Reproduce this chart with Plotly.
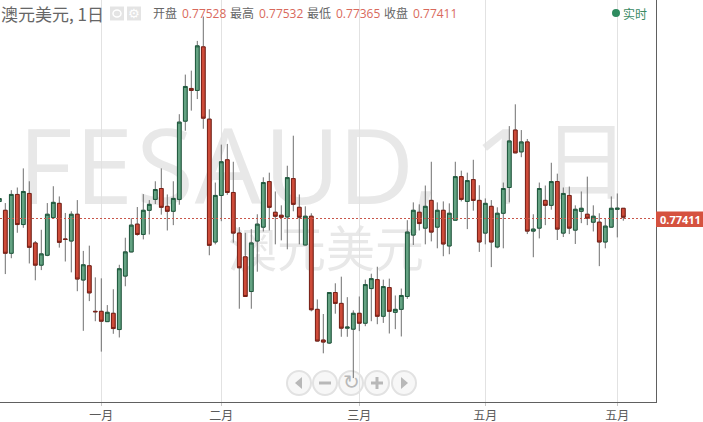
import plotly.graph_objects as go

W, H = 703, 422
PW, PH = 656, 402

# prices in points (1e-5)
opens = [77617,77502,76938,77710,77315,77723,77073,76782,76912,77406,77593,77125,77099,77450,76587,76774,76176,76176,76041,76150,75937,76639,76956,77320,77185,77502,77645,77788,77554,77489,77645,78672,79101,79075,79647,78698,77086,77697,78165,77736,77203,76891,76436,77099,77281,77879,77476,77437,77415,77918,77541,77047,77424,76202,75799,75760,76423,76280,75955,75942,76150,76020,76475,76592,76111,76488,76163,76202,76371,77177,77476,77268,77632,77281,77502,77034,77372,77944,77619,77905,77632,77203,77554,77021,77463,77801,78555,78269,78399,77229,77268,77632,77567,77879,77203,77697,77242,77489,77450,77346,77346,77086,77281,77515,77528]
highs = [77675,77597,77766,77801,78052,77883,77099,77246,77597,77818,77684,77467,77489,77636,76969,77038,76622,76609,76258,76466,76787,77142,77398,77545,77714,77636,77883,78052,77710,77883,78763,79283,79335,79725,80045,78828,77866,78364,78373,78139,77281,77207,77255,77450,77935,77996,77749,77567,78087,78481,77710,77554,77463,76332,76141,76423,76544,76631,76362,76189,76371,76592,76670,76761,76592,76605,76384,76475,77372,77606,77580,77827,78139,77606,77619,77593,78139,78022,77996,78165,77831,77658,77636,77541,77866,78607,78893,78555,78438,77450,77866,77827,78126,77983,77801,77814,77567,77749,77944,77567,77463,77398,77684,77723,77532]
lows = [77597,76665,76873,77207,77272,76804,76583,76717,76899,77393,77012,76830,76687,76440,75920,76310,76046,75647,76041,75881,75833,76505,76951,77168,77120,77185,77584,77445,77237,77307,77575,78546,78810,78962,78572,76912,77055,77359,77705,77077,76210,76366,76210,76696,77224,77237,77055,77107,76990,77489,77055,77042,76176,75781,75625,75747,76145,75842,75842,75300,75916,75981,76046,76007,76024,75885,75942,75846,76340,77047,77237,77055,77094,77003,76899,76925,77367,77619,77255,77497,76956,77055,76756,77003,77003,77606,78251,78199,77190,76886,77133,77307,77510,77112,77151,77190,77060,77333,77307,77224,76769,77003,77276,77146,77365]
closes = [77656,76938,77710,77315,77749,77016,76782,76930,77450,77606,77081,77120,77450,76600,76787,76418,76171,76046,76163,75950,76735,76956,77307,77185,77502,77580,77775,77541,77489,77658,78659,79127,79075,79660,78711,77042,77697,78139,77736,77203,76748,76371,77073,77320,77866,77541,77424,77411,77931,77580,77411,77424,76197,75786,75773,76423,76280,75955,75968,76150,76020,76527,76605,76111,76501,76176,76202,76384,77216,77502,77328,77554,77216,77502,77060,77463,77944,77645,77892,77632,77086,77593,77086,77463,77788,78412,78256,78399,77229,77255,77788,77567,77879,77255,77723,77268,77515,77528,77398,77424,77086,77294,77528,77528,77411]
positions = list(range(-1, 104))
tick_positions = [16, 36, 59, 80, 102]
tick_labels = ["一月", "二月", "三月", "五月", "五月"]
last_price = 0.77411

o = [v / 1e5 for v in opens]
h = [v / 1e5 for v in highs]
l = [v / 1e5 for v in lows]
c = [v / 1e5 for v in closes]
body_hi = [max(a, b) for a, b in zip(o, c)]
body_lo = [min(a, b) for a, b in zip(o, c)]

FONT = "Open Sans, Noto Sans CJK SC, sans-serif"
CJK = "Noto Sans CJK SC, sans-serif"
GREEN, GREEN_D = "#64a282", "#1f5a3e"
RED, RED_D = "#cd4b39", "#7c2117"
GRAY = "#666666"
VAL = "#d9695c"

px = lambda x: x / PW
py = lambda y: 1 - y / PH

fig = go.Figure()
fig.add_trace(go.Candlestick(x=positions, open=o, high=h, low=l, close=c,
    whiskerwidth=0, hoverinfo="skip", showlegend=False,
    increasing=dict(line=dict(color="#707070", width=1), fillcolor="rgba(0,0,0,0)"),
    decreasing=dict(line=dict(color="#707070", width=1), fillcolor="rgba(0,0,0,0)")))
fig.add_trace(go.Candlestick(x=positions, open=o, high=body_hi, low=body_lo, close=c,
    whiskerwidth=0, hoverinfo="skip", showlegend=False,
    increasing=dict(line=dict(color=GREEN_D, width=1), fillcolor=GREEN),
    decreasing=dict(line=dict(color=RED_D, width=1), fillcolor=RED)))

shapes, ann = [], []

def text(x, y, s, size, color, anchor="left", family=FONT, weight=None):
    f = dict(size=size, color=color, family=family)
    if weight:
        f["weight"] = weight
    ann.append(dict(x=px(x), y=py(y), xref="paper", yref="paper", text=s, showarrow=False,
                    xanchor=anchor, yanchor="middle", font=f, borderpad=0, borderwidth=0))

def wm(cx, cy, s, size, fam=FONT):
    shapes.append(dict(type="rect", xref="paper", yref="paper", x0=px(cx - 60), x1=px(cx + 60), y0=py(cy + 60), y1=py(cy - 60),
                       layer="below", line=dict(width=0), fillcolor="rgba(0,0,0,0)",
                       label=dict(text=s, textposition="middle center",
                                  font=dict(size=size, color="#e8e8e8", family=fam))))

for s, cx in [("F", 45), ("E", 104), ("S", 165), ("A", 228), ("U", 302), ("D", 376), (",", 425), ("1", 503)]:
    wm(cx, 170, s, 105)
wm(586, 169, "日", 86, CJK)
wm(326, 253, "澳元美元", 49, CJK)

# price line and tag
shapes.append(dict(type="line", xref="paper", yref="paper", x0=0, x1=1, y0=py(218.5), y1=py(218.5),
                   line=dict(color="#c8564a", width=1, dash="2px,2px"), layer="above"))
shapes.append(dict(type="rect", xref="paper", yref="paper", x0=px(656), x1=px(703), y0=py(227), y1=py(211.5),
                   line=dict(width=0), fillcolor="#d5523f", layer="above"))
text(680, 219, f"{last_price:.5f}", 11, "white", "center", weight="bold")

# header
text(1, 13, "澳元美元, 1日", 17, "#666666", family=CJK)
for x0 in (110, 127):
    shapes.append(dict(type="rect", xref="paper", yref="paper", x0=px(x0), x1=px(x0 + 14), y0=py(20.5), y1=py(6.5),
                       line=dict(width=0), fillcolor="#e4e4e4"))
shapes.append(dict(type="circle", xref="paper", yref="paper", x0=px(113), x1=px(121), y0=py(17), y1=py(10),
                   line=dict(color="white", width=1.5), fillcolor="rgba(0,0,0,0)"))
text(134, 13.5, "⚙", 13, "white", "center", family="DejaVu Sans")
for x, s, col in [(153, "开盘", GRAY), (182, "0.77528", VAL), (230, "最高", GRAY), (259, "0.77532", VAL),
                  (307, "最低", GRAY), (336, "0.77365", VAL), (384, "收盘", GRAY), (413, "0.77411", VAL)]:
    text(x, 14, s, 12, col)
shapes.append(dict(type="circle", xref="paper", yref="paper", x0=px(612), x1=px(620), y0=py(17), y1=py(9),
                   line=dict(width=0), fillcolor="#2e8b5f"))
text(622.5, 13.5, "实时", 12, "#3a8a63", family=CJK)

# nav buttons
for cx in (299, 325, 351, 377, 404):
    shapes.append(dict(type="circle", xref="paper", yref="paper", x0=px(cx - 12), x1=px(cx + 12), y0=py(395), y1=py(371),
                       line=dict(color="#e2e2e2", width=2), fillcolor="rgba(240,240,240,0.55)", layer="below"))
def tri(x0, x1):
    return dict(type="path", xref="paper", yref="paper", line=dict(width=0), fillcolor="#b8b8b8",
                path=f"M {px(x0)} {py(377)} L {px(x0)} {py(389)} L {px(x1)} {py(383)} Z")
shapes.append(tri(302, 295))
shapes.append(tri(401, 408))
for x0, x1, y0, y1 in [(319, 331, 381.5, 384.5), (371, 383, 381.5, 384.5), (375.5, 378.5, 377, 389)]:
    shapes.append(dict(type="rect", xref="paper", yref="paper", x0=px(x0), x1=px(x1), y0=py(y1), y1=py(y0),
                       line=dict(width=0), fillcolor="#b8b8b8"))
text(351, 382, "↻", 20, "#b8b8b8", "center", family="DejaVu Sans")

fig.update_layout(
    width=W, height=H, margin=dict(l=0, r=W - PW, t=0, b=H - PH),
    paper_bgcolor="white", plot_bgcolor="white", showlegend=False, boxgap=0.12,
    shapes=shapes, annotations=ann,
    xaxis=dict(range=[-0.883, 108.45], rangeslider=dict(visible=False), tickmode="array",
               tickvals=tick_positions, ticktext=tick_labels, showgrid=True, gridcolor="#e2e2e2", gridwidth=1,
               zeroline=False, showline=True, linecolor="#606060", linewidth=1,
               ticks="outside", ticklen=3, tickcolor="#c8c8c8", tickwidth=1,
               tickfont=dict(size=12, color="#5a5a5a", family=CJK)),
    yaxis=dict(range=[0.74986, 0.80262], side="right", showgrid=False, zeroline=False,
               showline=True, linecolor="#606060", linewidth=1, showticklabels=False, ticks=""),
)
fig.write_html("out.html", post_script="document.body.style.margin='0';", config=dict(displayModeBar=False))
